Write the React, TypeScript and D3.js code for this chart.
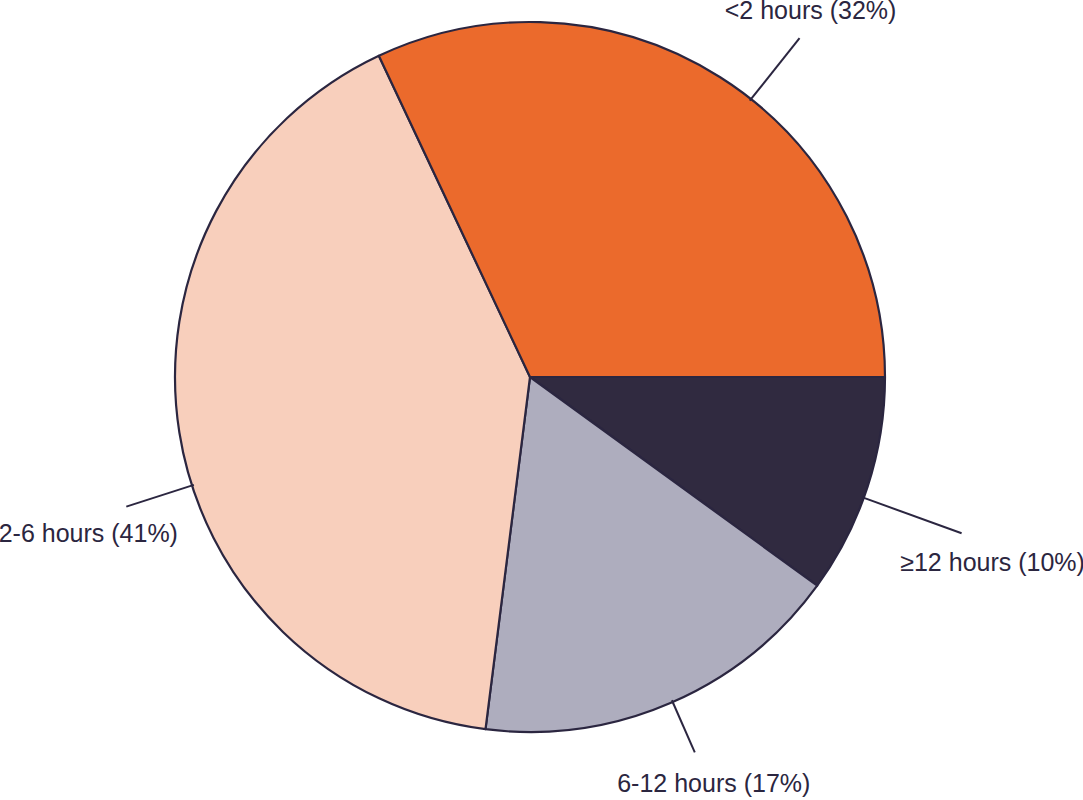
import { arc, pie } from 'd3';

const categories = ['≥12 hours', '6-12 hours', '2-6 hours', '<2 hours'];
const shares = [10, 17, 41, 32];
const sliceColors = ['#302A40', '#AEADBE', '#F8CFBC', '#EB6A2C'];

// leader placement per slice: angle shift from slice middle (deg), outer radius, label offset
const leaders = [
  { shift: 1.9, outer: 459, dx: 31, dy: 38 },
  { shift: -0.3, outer: 410, dx: 19, dy: 40 },
  { shift: -8.8, outer: 424, dx: -38, dy: 35 },
  { shift: 6.1, outer: 433, dx: 11, dy: -19 },
];

const INK = '#2B2640';

export default function App() {
  const width = 1083;
  const height = 800;
  const cx = 530;
  const cy = 377;
  const radius = 355;

  const slices = pie<number>()
    .sort(null)
    .startAngle(Math.PI / 2)
    .endAngle(Math.PI / 2 + Math.PI * 2)(shares);

  const slicePath = arc<any>().innerRadius(0).outerRadius(radius);

  const polar = (angle: number, r: number) => [
    Math.sin(angle) * r,
    -Math.cos(angle) * r,
  ];

  return (
    <svg
      width={width}
      height={height}
      viewBox={`0 0 ${width} ${height}`}
      style={{ position: 'absolute', left: 0, top: 0, background: '#fff' }}
      fontFamily="'Liberation Sans', Arial, Helvetica, sans-serif"
    >
      <g transform={`translate(${cx}, ${cy})`}>
        {slices.map((s, i) => (
          <path
            key={categories[i]}
            d={slicePath(s) || ''}
            fill={sliceColors[i]}
            stroke={INK}
            strokeWidth={2.2}
            strokeLinejoin="round"
          />
        ))}
        {slices.map((s, i) => {
          const cfg = leaders[i];
          const angle = (s.startAngle + s.endAngle) / 2 + (cfg.shift * Math.PI) / 180;
          const [x1, y1] = polar(angle, radius - 2);
          const [x2, y2] = polar(angle, cfg.outer);
          return (
            <g key={`label-${categories[i]}`}>
              <line x1={x1} y1={y1} x2={x2} y2={y2} stroke={INK} strokeWidth={2} />
              <text
                x={x2 + cfg.dx}
                y={y2 + cfg.dy}
                textAnchor="middle"
                fill={INK}
                fontSize={25}
              >
                {`${categories[i]} (${shares[i]}%)`}
              </text>
            </g>
          );
        })}
      </g>
    </svg>
  );
}
